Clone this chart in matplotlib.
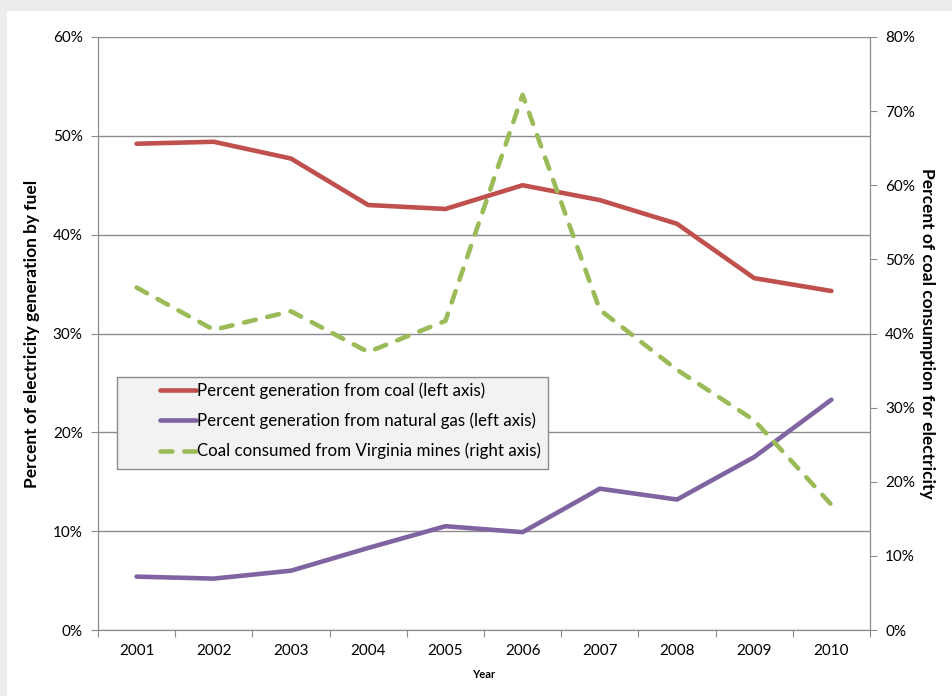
import matplotlib.pyplot as plt
from matplotlib.patches import Rectangle
from matplotlib.ticker import PercentFormatter
import numpy as np

plt.rcParams['font.family'] = ['Lato', 'DejaVu Sans']

years = ['2001', '2002', '2003', '2004', '2005', '2006', '2007', '2008', '2009', '2010']
coal_pct = [49.2, 49.4, 47.7, 43.0, 42.6, 45.0, 43.5, 41.1, 35.6, 34.3]
gas_pct = [5.4, 5.2, 6.0, 8.3, 10.5, 9.9, 14.3, 13.2, 17.5, 23.3]
va_mines_pct = [46.2, 40.5, 43.0, 37.5, 41.7, 72.2, 43.2, 35.1, 28.3, 16.9]

red = '#c0504d'
purple = '#8064a2'
green = '#9bbb59'
axis_gray = '#8c8c8c'

W, H = 952, 696
fig = plt.figure(figsize=(W / 100, H / 100), dpi=100)
fig.patch.set_facecolor('#ececec')
fig.patches.append(Rectangle((7 / W, 0), 1, 1 - 11 / H, transform=fig.transFigure,
                             facecolor='white', edgecolor='none', zorder=-5))

# plot area in pixels: x 98..870, y 37..630
px0, px1, py0, py1 = 98, 870, 37, 630
ax = fig.add_axes([px0 / W, 1 - py1 / H, (px1 - px0) / W, (py1 - py0) / H])
ax2 = ax.twinx()
ax.patch.set_alpha(0)
ax2.patch.set_alpha(0)


def to_axes(xp, yp):
    return (xp - px0) / (px1 - px0), (py1 - yp) / (py1 - py0)


x = np.arange(len(years))
l1, = ax.plot(x, coal_pct, color=red, lw=3.3, solid_capstyle='round',
              label='Percent generation from coal (left axis)')
l2, = ax.plot(x, gas_pct, color=purple, lw=3.3, solid_capstyle='round',
              label='Percent generation from natural gas (left axis)')
l3, = ax2.plot(x, va_mines_pct, color=green, lw=3.3, dashes=(2.6, 2.6),
               dash_capstyle='round', label='Coal consumed from Virginia mines (right axis)')

ax.set_xlim(-0.5, len(years) - 0.5)
ax.set_ylim(0, 60)
ax2.set_ylim(0, 80)
ax.set_yticks(np.arange(0, 61, 10))
ax2.set_yticks(np.arange(0, 81, 10))
ax.yaxis.set_major_formatter(PercentFormatter(decimals=0))
ax2.yaxis.set_major_formatter(PercentFormatter(decimals=0))

# category boundaries get tick marks, centres get the year labels
ax.set_xticks(np.arange(-0.5, len(years), 1))
ax.set_xticklabels([])
ax.set_xticks(x, minor=True)
ax.set_xticklabels(years, minor=True)
ax.tick_params(axis='x', which='major', length=5, color=axis_gray, direction='out')
ax.tick_params(axis='x', which='minor', length=0, pad=10, labelsize=11)
ax.tick_params(axis='y', length=5, color=axis_gray, labelsize=11, pad=6)
ax2.tick_params(axis='y', length=5, color=axis_gray, labelsize=11, pad=6)

ax.grid(axis='y', color=axis_gray, lw=1)
ax.set_axisbelow(True)
for a in (ax, ax2):
    for s in a.spines.values():
        s.set_color(axis_gray)
    a.spines['top'].set_visible(False)

ax.set_xlabel('Year', fontsize=8, fontweight='bold', labelpad=8)
ax.set_ylabel('Percent of electricity generation by fuel', fontsize=12.5,
              fontweight='bold', labelpad=9)
ax2.set_ylabel('Percent of coal consumption for electricity', fontsize=12.5,
               fontweight='bold', rotation=270, labelpad=14)

# legend frame drawn separately so its padding can be set exactly
bx0, by0 = to_axes(117, 469)
bx1, by1 = to_axes(548, 377)
ax2.add_patch(Rectangle((bx0, by0), bx1 - bx0, by1 - by0, transform=ax.transAxes,
                        facecolor='#f2f2f2', edgecolor=axis_gray, lw=1, zorder=4))
leg = ax2.legend(handles=[l1, l2, l3], loc='upper left',
                 bbox_to_anchor=to_axes(160, 382), bbox_transform=ax.transAxes,
                 fontsize=12.2, frameon=False, borderpad=0, borderaxespad=0,
                 handlelength=2.1, handletextpad=0.1, labelspacing=0.82)
leg.set_zorder(5)

fig.savefig('out.png', dpi=100, facecolor=fig.get_facecolor())
